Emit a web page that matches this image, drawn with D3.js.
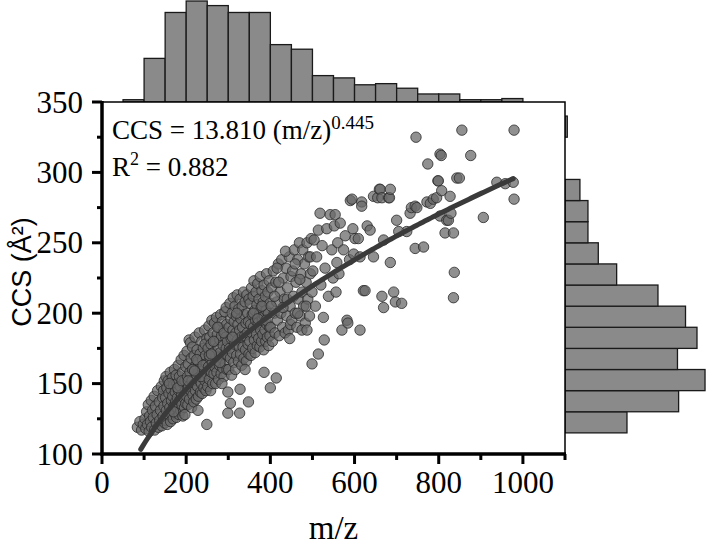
<!DOCTYPE html>
<html><head><meta charset="utf-8">
<script src="https://cdn.jsdelivr.net/npm/d3@7"></script>
<style>body{margin:0;background:#fff}</style>
</head><body><svg id="c" width="708" height="548"></svg>
<script>
// ---- data ----
const mzBinEdges = [50,100,150,200,250,300,350,400,450,500,550,600,650,700,750,800,850,900,950,1000];
const mzCounts   = [2,38,78,88,84,78,78,50,46,23,21,15,16,12,7,7,2,2,3];
const ccsBinEdges = [115,130,145,160,175,190,205,220,235,250,265,280,295,310,325,340];
const ccsCounts   = [54,99,122,98,115,105,81,45,29,20,20,13,0,0,2];
const fitCoef = 13.810, fitExp = 0.445, fitR2 = 0.882, fitRange = [92, 977];
const xMajorTicks = [0,200,400,600,800,1000];
const xMinorTicks = [100,300,500,700,900,1100];
const yMajorTicks = [100,150,200,250,300,350];
const yMinorTicks = [125,175,225,275,325];
const points = [
[84,119],[90,123],[94,117],[98,121],
[102,125],[104,118],[106,130],[108,121],[110,135],[112,116],[113,127],[115,123],[117,138],[118,119],[120,131],[122,126],[124,141],[125,117],[127,134],[129,122],[131,128],[132,145],[134,119],[136,137],[137,124],[139,131],[141,148],[142,120],[144,140],[145,127],[147,134],[148,152],[149,122],[146,145],
[151,124],[151,140],[152,155],[153,131],[154,147],[155,121],[156,136],[157,152],[158,128],[159,143],
[161,133],[162,158],[163,123],[164,146],[165,138],[166,128],[167,154],[168,141],[169,125],[170,149],
[171,134],[172,160],[173,129],[174,144],[175,137],[176,156],[177,126],[178,150],[179,140],[180,132],
[181,163],[182,145],[183,128],[184,155],[185,138],[186,148],[187,131],[188,167],[189,142],[190,135],
[191,158],[192,127],[193,150],[194,140],[195,170],[196,133],[197,152],[198,145],[199,136],[199,162],
[160,150],[170,130],[180,147],[190,152],[197,128],
[201,141],[202,173],[203,155],[204,135],[205,164],[206,148],[207,181],[208,139],[209,158],[210,179],
[211,145],[212,168],[213,133],[214,152],[215,176],[216,142],[217,160],[218,137],[219,170],[220,150],
[221,183],[222,145],[223,163],[224,139],[225,156],[226,174],[227,148],[228,166],[229,141],[230,158],
[231,186],[232,152],[233,171],[234,144],[235,162],[236,150],[237,180],[238,143],[239,167],[240,155],
[241,175],[242,147],[243,160],[244,188],[245,152],[246,170],[247,145],[248,164],[249,157],[249,182],
[205,152],[215,160],[225,167],[235,155],[245,178],[228,131],[249,121],[220,159],[240,163],
[251,148],[252,175],[253,162],[254,191],[255,153],[256,183],[257,168],[258,145],[259,178],[260,158],
[261,195],[262,165],[263,150],[264,186],[265,172],[266,157],[267,193],[268,162],[269,180],[270,150],
[271,170],[272,197],[273,158],[274,185],[275,166],[276,176],[277,153],[278,190],[279,163],[280,181],
[281,172],[282,199],[283,157],[284,184],[285,168],[286,194],[287,161],[288,177],[289,188],[290,155],
[291,170],[292,201],[293,164],[294,183],[295,175],[296,192],[297,160],[298,180],[299,170],[299,144],
[255,170],[265,180],[275,190],[285,150],[295,204],[260,171],[280,165],[290,186],
[301,160],[302,190],[303,175],[304,207],[305,168],[306,196],[307,182],[308,156],[309,200],[310,172],
[311,188],[312,211],[313,165],[314,194],[315,178],[316,205],[317,160],[318,186],[319,198],[320,170],
[321,213],[322,181],[323,192],[324,166],[325,203],[326,176],[327,188],[328,210],[329,171],[330,196],
[331,183],[332,163],[333,205],[334,190],[335,176],[336,215],[337,168],[338,199],[339,184],[340,208],
[341,174],[342,193],[343,166],[344,213],[345,186],[346,200],[347,178],[348,194],[349,171],[349,210],
[305,136],[299,129],[328,146],[327,129],[348,137],[310,183],[320,200],[340,160],
[351,180],[352,207],[353,192],[354,170],[355,218],[356,186],[357,199],[358,175],[359,212],[360,190],
[361,223],[362,181],[363,202],[364,172],[365,195],[366,215],[367,185],[368,206],[369,177],[370,221],
[371,193],[372,182],[373,210],[374,199],[375,176],[376,226],[377,188],[378,204],[379,180],[380,216],
[381,195],[382,185],[383,208],[384,174],[385,220],[386,198],[387,188],[388,212],[389,180],[390,202],
[391,228],[392,192],[393,183],[394,215],[395,200],[396,177],[397,223],[398,190],[399,207],[399,184],
[385,158],[360,200],[370,196],[380,205],[390,195],
[401,190],[403,218],[405,180],[407,230],[409,200],[411,186],[413,222],[414,154],[400,147],[415,208],
[417,195],[419,235],[421,184],[423,215],[425,200],[427,238],[429,190],[431,225],[433,210],[435,186],
[437,232],[439,198],[441,218],[443,188],[445,240],[447,205],[449,226],[448,192],[402,205],[410,212],
[420,222],[430,204],[440,210],[446,182],[416,232],[436,244],
[451,195],[453,230],[455,212],[457,245],[459,200],[461,222],[463,190],[465,238],[467,210],[469,250],
[471,198],[473,228],[475,215],[477,245],[479,205],[481,235],[483,193],[485,222],[487,250],[489,210],
[491,240],[493,198],[495,228],[497,253],[499,215],[475,188],[465,200],[485,205],[459,235],[495,240],
[487,188],[499,164],[470,224],
[501,230],[504,252],[507,205],[510,240],[514,171],[514,259],[518,271],[520,220],[523,248],[526,197],[528,181],[530,232],[534,260],[538,212],[542,270],[546,245],[549,225],
[552,262],[554,270],[556,215],[558,236],[560,250],[563,228],[566,264],[570,188],[574,245],[578,255],[582,195],[584,193],[588,238],[590,280],[594,281],[596,260],[598,242],
[601,253],[609,253],[613,188],[613,240],[617,279],[617,276],[621,216],[625,216],[630,262],[637,259],[645,283],[645,240],
[655,282],[659,288],[661,288],[665,212],[665,282],[669,204],[669,252],[681,282],[683,282],[685,288],[685,236],[693,215],[697,208],
[700,266],[712,207],[724,258],[732,271],[735,275],[744,276],[744,246],[746,325],[748,275],[705,258],
[764,247],[772,279],[774,306],[780,278],[787,281],[795,282],[798,294],[799,294],
[803,269],[803,313],[806,312],[807,287],[815,257],[819,266],[823,266],[827,283],[829,271],[835,257],[835,211],[837,229],[843,296],[849,296],
[855,330],[876,312],[906,268],[938,293],[958,292],[977,293],[979,281],[979,330]
];

// ---- drawing ----
const svg = d3.select("#c");
const x = d3.scaleLinear().domain([0,1100]).range([102,565]);
const y = d3.scaleLinear().domain([100,350]).range([454,102]);
const cnt = d3.scaleLinear().domain([0,88]).range([0,101]);
const serif = "'Liberation Serif','Times New Roman',serif";
const sans = "'Liberation Sans',Arial,sans-serif";

// top histogram
const topBins = mzCounts.map((c,i)=>({lo:mzBinEdges[i],hi:mzBinEdges[i+1],c}));
svg.append("g").selectAll("rect").data(topBins.filter(d=>d.c>0)).join("rect")
  .attr("x",d=>x(d.lo)).attr("width",d=>x(d.hi)-x(d.lo))
  .attr("y",d=>y(350)-cnt(d.c)).attr("height",d=>cnt(d.c))
  .attr("fill","#8a8a8a").attr("stroke","#1a1a1a").attr("stroke-width",1.3);

// right histogram
const rBins = ccsCounts.map((c,i)=>({lo:ccsBinEdges[i],hi:ccsBinEdges[i+1],c}));
svg.append("g").selectAll("rect").data(rBins.filter(d=>d.c>0)).join("rect")
  .attr("x",x(1100)).attr("width",d=>cnt(d.c))
  .attr("y",d=>y(d.hi)).attr("height",d=>y(d.lo)-y(d.hi))
  .attr("fill","#8a8a8a").attr("stroke","#1a1a1a").attr("stroke-width",1.3);

// plot background & frame
svg.append("rect").attr("x",x(0)).attr("y",y(350)).attr("width",x(1100)-x(0)).attr("height",y(100)-y(350))
  .attr("fill","#fff").attr("stroke","#000").attr("stroke-width",1.5);

// scatter
svg.append("clipPath").attr("id","clipP").append("rect")
  .attr("x",x(0)).attr("y",y(350)).attr("width",x(1100)-x(0)).attr("height",y(100)-y(350));
svg.append("g").attr("clip-path","url(#clipP)").selectAll("circle").data(points).join("circle")
  .attr("cx",d=>x(d[0])).attr("cy",d=>y(d[1])).attr("r",5.2)
  .attr("fill","rgba(105,105,105,0.74)").attr("stroke","rgba(40,40,40,0.78)").attr("stroke-width",1);

// fit curve
const fitX = d3.range(fitRange[0], fitRange[1]+1, 5);
svg.append("path").datum(fitX)
  .attr("d", d3.line().x(d=>x(d)).y(d=>y(fitCoef*Math.pow(d,fitExp))))
  .attr("fill","none").attr("stroke","#3a3a3a").attr("stroke-width",5).attr("stroke-linecap","round");

// axes: tick marks via scales
const axG = svg.append("g").attr("stroke","#000").attr("stroke-width",3);
axG.selectAll("line.xmaj").data(xMajorTicks).join("line").attr("class","xmaj")
  .attr("x1",d=>x(d)).attr("x2",d=>x(d)).attr("y1",y(100)).attr("y2",y(100)+10);
axG.selectAll("line.xmin").data(xMinorTicks).join("line").attr("class","xmin")
  .attr("x1",d=>x(d)).attr("x2",d=>x(d)).attr("y1",y(100)).attr("y2",y(100)+6);
axG.selectAll("line.ymaj").data(yMajorTicks).join("line").attr("class","ymaj")
  .attr("y1",d=>y(d)).attr("y2",d=>y(d)).attr("x1",x(0)).attr("x2",x(0)-10);
axG.selectAll("line.ymin").data(yMinorTicks).join("line").attr("class","ymin")
  .attr("y1",d=>y(d)).attr("y2",d=>y(d)).attr("x1",x(0)).attr("x2",x(0)-5);
// thick axis lines
svg.append("line").attr("x1",x(0)).attr("x2",x(0)).attr("y1",y(350)-1).attr("y2",y(100)+1.5)
  .attr("stroke","#000").attr("stroke-width",3.5);
svg.append("line").attr("x1",x(0)-1.5).attr("x2",x(1100)+1).attr("y1",y(100)).attr("y2",y(100))
  .attr("stroke","#000").attr("stroke-width",3.5);

// tick labels
svg.append("g").selectAll("text").data(xMajorTicks).join("text")
  .attr("x",d=>x(d)).attr("y",y(100)+39).attr("text-anchor","middle")
  .attr("font-family",serif).attr("font-size",31).attr("fill","#000").text(d3.format("d"));
svg.append("g").selectAll("text").data(yMajorTicks).join("text")
  .attr("x",x(0)-19).attr("y",d=>y(d)).attr("dy","0.34em").attr("text-anchor","end")
  .attr("font-family",serif).attr("font-size",31).attr("fill","#000").text(d3.format("d"));

// axis titles
svg.append("text").attr("transform",`translate(31,${272}) rotate(-90)`).attr("text-anchor","middle")
  .attr("font-family",sans).attr("font-size",27).attr("fill","#000").text("CCS (Å²)");
svg.append("text").attr("x",(x(0)+x(1100))/2).attr("y",539).attr("text-anchor","middle")
  .attr("font-family",serif).attr("font-size",33).attr("fill","#000").text("m/z");

// annotation
const t1 = svg.append("text").attr("x",112).attr("y",139).attr("font-family",serif).attr("font-size",27).attr("fill","#000");
t1.append("tspan").text(`CCS = ${fitCoef.toFixed(3)} (m/z)`);
t1.append("tspan").attr("dy",-10).attr("font-size",19).text(fitExp.toFixed(3));
const t2 = svg.append("text").attr("x",112).attr("y",176).attr("font-family",serif).attr("font-size",27).attr("fill","#000");
t2.append("tspan").text("R");
t2.append("tspan").attr("dy",-11).attr("font-size",18).text("2");
t2.append("tspan").attr("dy",11).text(` = ${fitR2.toFixed(3)}`);
</script></body></html>
